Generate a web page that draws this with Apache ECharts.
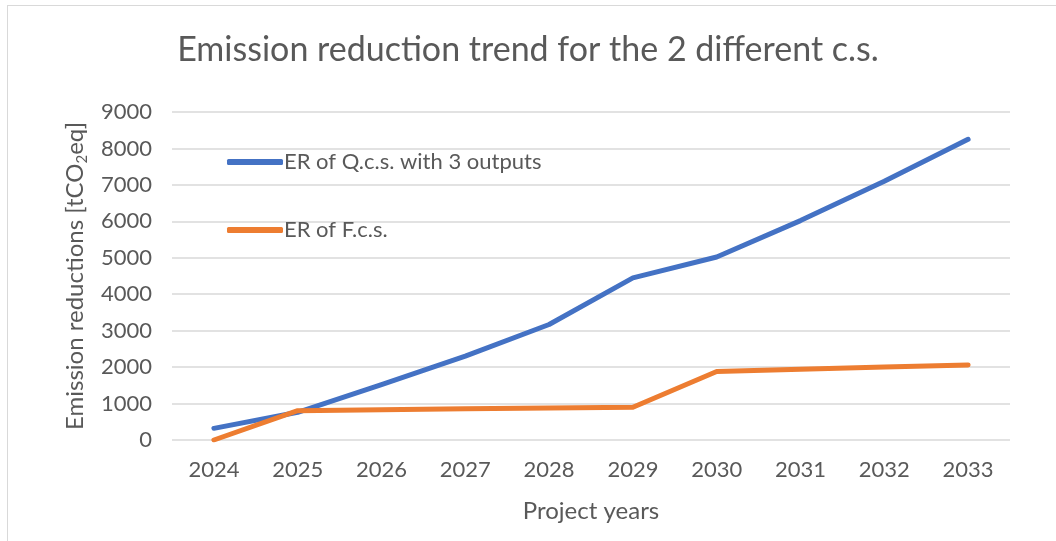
<!DOCTYPE html>
<html>
<head>
<meta charset="utf-8">
<script src="https://cdn.jsdelivr.net/npm/echarts@6/dist/echarts.min.js"></script>
<style>
  html, body { margin: 0; padding: 0; background: #fff; }
  #frame { position: absolute; left: 7px; top: 5px; width: 1060px; height: 560px; border: 1px solid #d9d9d9; box-sizing: border-box; }
  #chart { position: absolute; left: 0; top: 0; width: 1056px; height: 541px; }
</style>
</head>
<body>
<div id="frame"></div>
<div id="chart"></div>
<script>
// data
const years = ['2024', '2025', '2026', '2027', '2028', '2029', '2030', '2031', '2032', '2033']
const erQcs = [320, 760, 1520, 2300, 3170, 4450, 5020, 6020, 7100, 8250]
const erFcs = [0, 805, 830, 855, 880, 900, 1880, 1940, 2000, 2060]

const font = 'Lato, "Open Sans", sans-serif'
const textColor = '#595959'

const chart = echarts.init(document.getElementById('chart'))

chart.setOption({
  animation: false,
  textStyle: { fontFamily: font },
  title: {
    text: 'Emission reduction trend for the 2 different c.s.',
    left: 'center',
    top: 28,
    textStyle: { fontSize: 34, fontWeight: 'normal', color: textColor, fontFamily: font },
  },
  legend: {
    orient: 'vertical',
    left: 222,
    top: 146,
    itemGap: 46,
    itemWidth: 56,
    itemHeight: 6,
    itemStyle: { borderWidth: 0 },
    icon: 'roundRect',
    textStyle: { fontSize: 22, color: textColor, padding: [0, 0, 0, -4] },
    data: ['ER of Q.c.s. with 3 outputs', 'ER of F.c.s.'],
  },
  grid: { left: 172, right: 46, top: 112, bottom: 101 },
  xAxis: {
    type: 'category',
    data: years,
    name: 'Project years',
    nameLocation: 'middle',
    nameGap: 59,
    nameTextStyle: { fontSize: 24, color: textColor },
    axisLine: { show: false },
    axisTick: { show: false },
    axisLabel: { fontSize: 22, color: textColor, margin: 19 },
  },
  yAxis: {
    type: 'value',
    min: 0,
    max: 9000,
    interval: 1000,
    name: 'Emission reductions [tCO{sub|2}eq]',
    nameLocation: 'middle',
    nameGap: 80,
    nameTextStyle: {
      fontSize: 24,
      color: textColor,
      rich: {
        sub: { fontSize: 15, color: textColor, verticalAlign: 'bottom', padding: [14, 0, 0, 0] },
      },
    },
    axisLabel: { fontSize: 22, color: textColor, margin: 20, formatter: (v) => String(v) },
    splitLine: { lineStyle: { color: '#d9d9d9', width: 1.5 } },
  },
  series: [
    {
      name: 'ER of Q.c.s. with 3 outputs',
      type: 'line',
      data: erQcs,
      symbol: 'none',
      color: '#4472c4',
      lineStyle: { width: 5, cap: 'round', join: 'round' },
    },
    {
      name: 'ER of F.c.s.',
      type: 'line',
      data: erFcs,
      symbol: 'none',
      color: '#ed7d31',
      lineStyle: { width: 5, cap: 'round', join: 'round' },
    },
  ],
})
</script>
</body>
</html>
